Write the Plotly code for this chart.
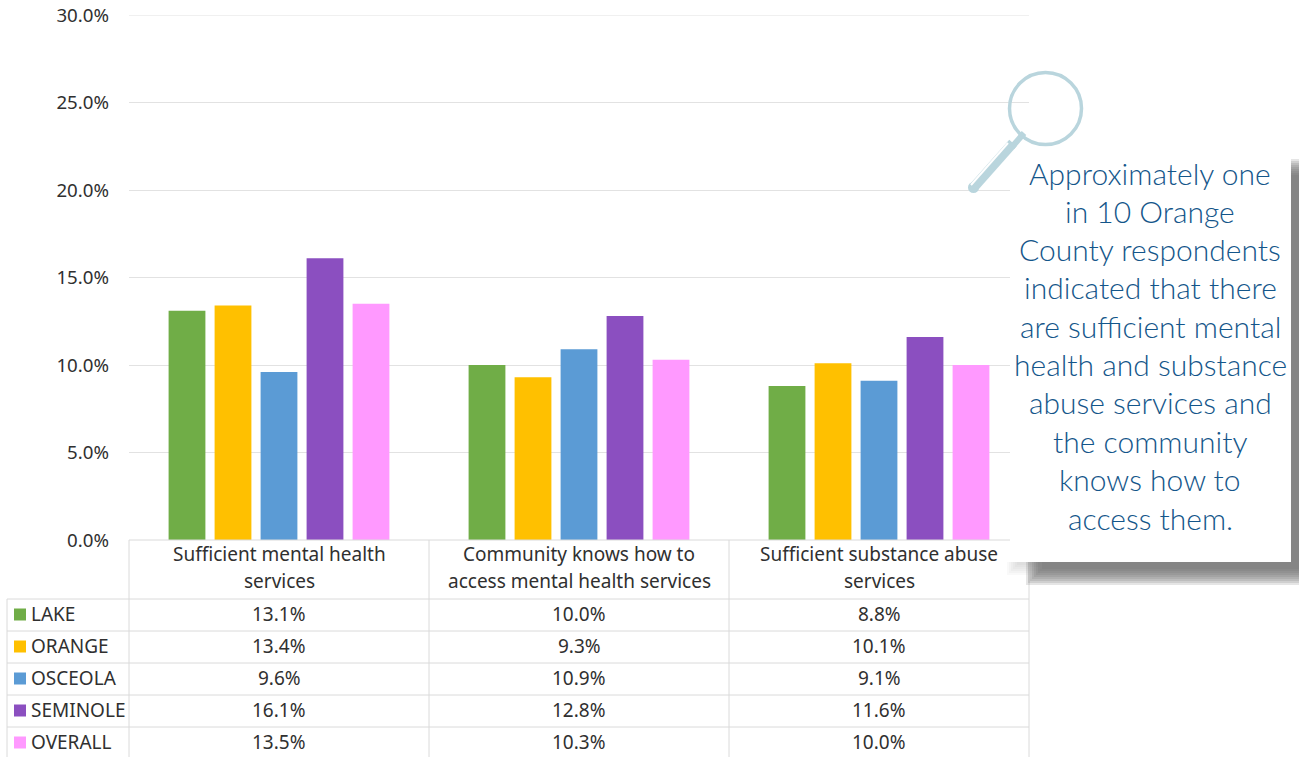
import plotly.graph_objects as go

W, H = 1299, 757
categories = ["Sufficient mental health services",
              "Community knows how to access mental health services",
              "Sufficient substance abuse services"]
category_lines = [["Sufficient mental health", "services"],
                  ["Community knows how to", "access mental health services"],
                  ["Sufficient substance abuse", "services"]]
lake = [13.1, 10.0, 8.8]
orange = [13.4, 9.3, 10.1]
osceola = [9.6, 10.9, 9.1]
seminole = [16.1, 12.8, 11.6]
overall = [13.5, 10.3, 10.0]
series_names = ["LAKE", "ORANGE", "OSCEOLA", "SEMINOLE", "OVERALL"]
series_values = [lake, orange, osceola, seminole, overall]
series_colors = ["#70AD47", "#FFC000", "#5B9BD5", "#8B4FC0", "#FF99FF"]
y_ticks = [0, 5, 10, 15, 20, 25, 30]
callout_lines = ["Approximately one", "in 10 Orange", "County respondents", "indicated that there",
                 "are sufficient mental", "health and substance", "abuse services and",
                 "the community", "knows how to", "access them."]
callout_y = [175, 213, 251, 289, 328, 366, 404, 443, 481, 520]

FONT = "Noto Sans"
LINE = "#DADADA"


def px(x):
    return x / W


def py(y):
    return 1 - y / H


def hline(x0, x1, y, color=LINE, width=1):
    return dict(type="line", xref="paper", yref="paper", x0=px(x0), x1=px(x1), y0=py(y), y1=py(y),
                line=dict(color=color, width=width))


def vline(x, y0, y1, color=LINE, width=1):
    return dict(type="line", xref="paper", yref="paper", x0=px(x), x1=px(x), y0=py(y0), y1=py(y1),
                line=dict(color=color, width=width))


def rect(x0, y0, x1, y1, fill, opacity=1.0):
    return dict(type="rect", xref="paper", yref="paper", x0=px(x0), x1=px(x1), y0=py(y0), y1=py(y1),
                fillcolor=fill, opacity=opacity, line=dict(width=0))


def label(x, y, text, size=19, color="#303030", anchor="center", family=FONT, weight=None):
    font = dict(family=family, size=size, color=color)
    if weight:
        font["weight"] = weight
    return dict(xref="paper", yref="paper", x=px(x), y=py(y), text=text, showarrow=False,
                xanchor=anchor, yanchor="middle", font=font)


fig = go.Figure()
for name, vals, col in zip(series_names, series_values, series_colors):
    fig.add_bar(name=name, x=categories, y=vals, marker=dict(color=col, line=dict(width=0)))

shapes, annotations = [], []

# top gridline, which the axis leaves out at the end of its range
shapes.append(dict(type="line", xref="x domain", yref="y", x0=0, x1=1, y0=y_ticks[-1], y1=y_ticks[-1],
                   line=dict(color="#E2E2E2", width=1)))

# data table grid
row_y = [599, 631, 663, 695, 727]
shapes.append(hline(129, 1029, 540))
for ry in row_y:
    shapes.append(hline(7, 1029, ry))
for vx in (129, 429, 729, 1029):
    shapes.append(vline(vx, 540, H))
shapes.append(vline(7, 599, H))

# category headers
col_center = [279, 579, 879]
for cx, lines in zip(col_center, category_lines):
    annotations.append(label(cx, 554, lines[0]))
    annotations.append(label(cx, 581, lines[1]))

# data rows and legend keys
for ry, name, vals, col in zip(row_y, series_names, series_values, series_colors):
    mid = ry + 15.5
    shapes.append(rect(14, mid - 6, 26, mid + 6, col))
    annotations.append(label(29, mid - 1, name, anchor="left"))
    for cx, v in zip(col_center, vals):
        annotations.append(label(cx, mid - 0.5, f"{v:.1f}%"))

# callout shadow and box
for i in range(6):
    grow = 5 - 2 * i
    shapes.append(rect(1012 - grow, 562, 1040, 570 + grow, "#9A9A9A", 0.06))
for i in range(9):
    grow = 8 - 2 * i
    shapes.append(rect(1034 - grow, 167 - grow, 1330, 577 + grow, "#6E6E6E", 0.18))
shapes.append(rect(1010, 158, 1291, 562, "#FFFFFF"))

# magnifying glass
GLASS = "#B9D5DD"
shapes.append(dict(type="circle", xref="paper", yref="paper", x0=px(1009.5), x1=px(1081.5),
                   y0=py(72.5), y1=py(144.5), line=dict(color=GLASS, width=3.5)))
shapes.append(dict(type="line", xref="paper", yref="paper", x0=px(1024), y0=py(133), x1=px(1012), y1=py(147),
                   line=dict(color=GLASS, width=6)))
shapes.append(dict(type="line", xref="paper", yref="paper", x0=px(1013), y0=py(143), x1=px(974), y1=py(187),
                   line=dict(color=GLASS, width=10)))
shapes.append(dict(type="circle", xref="paper", yref="paper", x0=px(968), x1=px(979),
                   y0=py(182), y1=py(193), fillcolor=GLASS, line=dict(width=0)))
shapes.append(dict(type="line", xref="paper", yref="paper", x0=px(1008), y0=py(143), x1=px(971), y1=py(185),
                   line=dict(color="#FFFFFF", width=2)))

# callout text
for y, t in zip(callout_y, callout_lines):
    annotations.append(label(1150, y - 2, t, size=30, color="#14568A", family="Lato", weight=300))

fig.update_layout(
    width=W, height=H, autosize=False,
    margin=dict(l=0, r=0, t=0, b=0, pad=0, autoexpand=False),
    paper_bgcolor="white", plot_bgcolor="white",
    showlegend=False,
    barmode="group", bargap=0.2333, bargroupgap=0.2,
    xaxis=dict(domain=[px(129), px(1029)], showticklabels=False, ticks="", showgrid=False, zeroline=False,
               showline=False, fixedrange=True, automargin=False),
    yaxis=dict(domain=[py(540), py(15)], range=[0, 30], tickvals=y_ticks,
               ticktext=[f"{v:.1f}%" for v in y_ticks], ticks="", ticklabelstandoff=19, automargin=False,
               tickfont=dict(family=FONT, size=18.7, color="#303030"),
               showgrid=True, gridcolor="#E2E2E2", gridwidth=1, zeroline=False, showline=False, fixedrange=True),
    shapes=shapes, annotations=annotations,
)
fig.write_html("out.html", config=dict(displayModeBar=False),
               post_script="document.body.style.margin='0';document.documentElement.style.overflow='hidden';")
